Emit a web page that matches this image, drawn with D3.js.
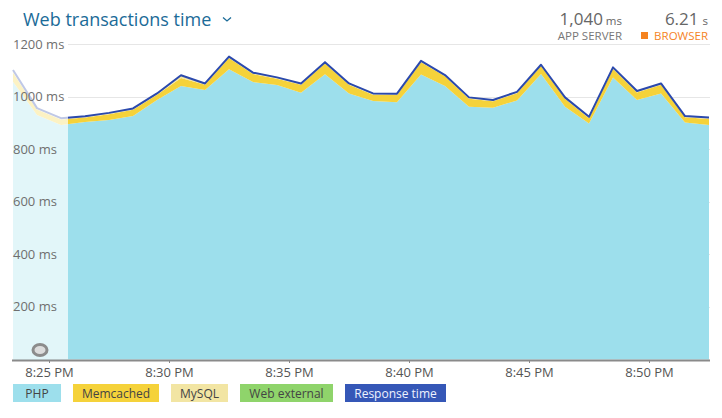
<!DOCTYPE html>
<html>
<head>
<meta charset="utf-8">
<script src="https://cdn.jsdelivr.net/npm/d3@7"></script>
<style>
  body { margin: 0; background: #fff; }
  svg { display: block; font-family: "Open Sans", sans-serif; }
</style>
</head>
<body>
<svg id="chart" width="722" height="418"></svg>
<script>
// one sample per minute, 8:23:30 PM to 8:52:30 PM
let times = ["20:23:30","20:24:30","20:25:30","20:26:30","20:27:30","20:28:30","20:29:30","20:30:30",
  "20:31:30","20:32:30","20:33:30","20:34:30","20:35:30","20:36:30","20:37:30","20:38:30","20:39:30",
  "20:40:30","20:41:30","20:42:30","20:43:30","20:44:30","20:45:30","20:46:30","20:47:30","20:48:30",
  "20:49:30","20:50:30","20:51:30","20:52:30"];

let php = [1056,930,892,903,911,926,987,1040,1025,1104,1055,1044,1015,1085,1012,983,978,1084,1040,961,958,985,1086,961,898,1073,987,1012,901,892];
let memcached = [36,21,21,17,22,24,20,31,20,43,31,24,30,41,33,24,28,47,37,31,24,28,30,31,20,33,29,33,20,23];
let mysql = [8,4,4,4,4,4,4,9,4,4,4,4,4,4,4,4,4,4,4,4,4,4,4,4,4,4,4,4,4,4];
let webExternal = [1,1,1,1,1,1,1,1,1,1,1,1,1,1,1,1,1,1,1,1,1,1,1,1,1,1,1,1,1,1];
let responseTime = [1101,956,918,925,938,955,1012,1081,1050,1152,1091,1073,1050,1131,1050,1012,1011,1136,1082,997,987,1018,1121,997,923,1111,1021,1050,926,920];

let yTicks = [200,400,600,800,1000,1200];
let legendItems = ["PHP","Memcached","MySQL","Web external","Response time"];

let colors = {php:"#9ddfec", memcached:"#f5d23a", mysql:"#f2e5a3", webExternal:"#8fd46b"};
let lineColor = "#2b49ad";

let parse = d3.timeParse("%H:%M:%S");
let rows = times.map((t,i) => ({
  time: parse(t), php: php[i], memcached: memcached[i], mysql: mysql[i],
  webExternal: webExternal[i], response: responseTime[i]
}));

let svg = d3.select("#chart");
let plotLeft = 13, plotRight = 709, plotTop = 44, plotBottom = 359.5;

let x = d3.scaleTime()
  .domain(d3.extent(rows, d => d.time))
  .range([plotLeft, plotRight]);
let y = d3.scaleLinear().domain([0,1200]).range([plotBottom, plotTop]);

// grid
svg.append("g").selectAll("line").data(yTicks).enter().append("line")
  .attr("x1", 68).attr("x2", 710)
  .attr("y1", d => Math.round(y(d)) + 0.5).attr("y2", d => Math.round(y(d)) + 0.5)
  .attr("stroke", "#e6e6e6");

// stacked layers
let keys = ["php","memcached","mysql","webExternal"];
let series = d3.stack().keys(keys)(rows);
let area = d3.area()
  .x(d => x(d.data.time))
  .y0(d => y(d[0]))
  .y1(d => y(d[1]));

svg.append("g").selectAll("path").data(series).enter().append("path")
  .attr("d", area)
  .attr("fill", d => colors[d.key]);

let line = d3.line().x(d => x(d.time)).y(d => y(d.response));
svg.append("path").datum(rows)
  .attr("d", line)
  .attr("fill", "none")
  .attr("stroke", lineColor)
  .attr("stroke-width", 2)
  .attr("stroke-linejoin", "round");

// faded out-of-range part
svg.append("rect")
  .attr("x", 11).attr("y", 30).attr("width", 57).attr("height", plotBottom - 30)
  .attr("fill", "#fff").attr("opacity", 0.7);

// little ring marker
svg.append("ellipse").attr("cx", 40).attr("cy", 350).attr("rx", 7).attr("ry", 5.5)
  .attr("fill", "#dcdcdc").attr("stroke", "#8c8c8c").attr("stroke-width", 3);

// y labels
svg.append("g").selectAll("text").data(yTicks).enter().append("text")
  .attr("x", 13).attr("y", d => y(d) + 4.5)
  .attr("font-size", 13).attr("fill", "#6f6f6f")
  .text(d => d + " ms");

// x axis
let xAxis = d3.axisBottom(x)
  .ticks(d3.timeMinute.every(5))
  .tickSize(3)
  .tickFormat(d3.timeFormat("%-I:%M %p"));
let gx = svg.append("g").attr("transform", "translate(0,360)").call(xAxis);
gx.select(".domain").remove();
gx.selectAll(".tick line").attr("stroke", "#888");
gx.selectAll(".tick text").attr("font-size", 13).attr("fill", "#555")
  .attr("font-family", "Open Sans, sans-serif").attr("dy", "0.85em");
svg.append("line").attr("x1", 12).attr("x2", 710).attr("y1", 360.5).attr("y2", 360.5)
  .attr("stroke", "#8a8a8a").attr("stroke-width", 2);

// title
svg.append("text").attr("x", 23).attr("y", 26)
  .attr("font-size", 18).attr("fill", "#1b6b98").text("Web transactions time");
svg.append("path").attr("d", "M223,17.5 L227,21 L231,17.5")
  .attr("fill", "none").attr("stroke", "#1b6b98").attr("stroke-width", 1.3);

// header numbers
let hdr = svg.append("g").attr("fill", "#666");
let t1 = hdr.append("text").attr("x", 622).attr("y", 24.5).attr("text-anchor", "end");
t1.append("tspan").attr("font-size", 17).text("1,040");
t1.append("tspan").attr("font-size", 11.5).attr("dx", 3).text("ms");
hdr.append("text").attr("x", 622).attr("y", 39.5).attr("text-anchor", "end")
  .attr("font-size", 11.5).attr("fill", "#777").text("APP SERVER");
let t2 = hdr.append("text").attr("x", 708).attr("y", 24.5).attr("text-anchor", "end");
t2.append("tspan").attr("font-size", 17).text("6.21");
t2.append("tspan").attr("font-size", 11.5).attr("dx", 4).text("s");
svg.append("text").attr("x", 708).attr("y", 39.5).attr("text-anchor", "end")
  .attr("font-size", 11.5).attr("fill", "#f5831f").text("BROWSER");
svg.append("rect").attr("x", 641).attr("y", 32).attr("width", 7).attr("height", 7).attr("fill", "#f5831f");

// legend
let legendFill = ["#9ddfec","#f5d23a","#f2e5a3","#8fd46b","#3557b7"];
let legendText = ["#444","#444","#444","#444","#eef2ff"];
let legendW = [48, 86, 57, 93, 101];
let lx = 13;
legendItems.forEach((name, i) => {
  let g = svg.append("g");
  g.append("rect").attr("x", lx).attr("y", 384).attr("width", legendW[i]).attr("height", 18)
    .attr("fill", legendFill[i]);
  g.append("text").attr("x", lx + legendW[i] / 2).attr("y", 397.5)
    .attr("text-anchor", "middle").attr("font-size", 12)
    .attr("fill", legendText[i]).text(name);
  lx += legendW[i] + 12;
});
</script>
</body>
</html>
